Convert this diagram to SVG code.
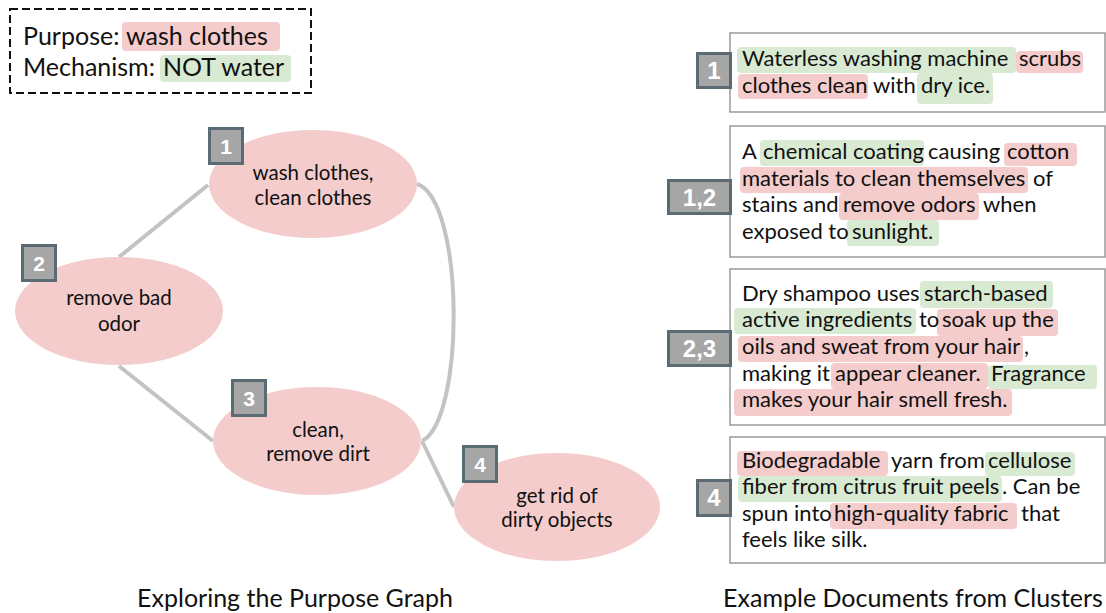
<svg xmlns="http://www.w3.org/2000/svg" width="1106" height="613" viewBox="0 0 1106 613">
<style>
.t{font-family:Lato,"Noto Sans",sans-serif;fill:#111}
.q{font-size:25px}
.n{font-size:20.5px;text-anchor:middle}
.d{font-size:22px}
.cap{font-size:25px;text-anchor:middle}
.pk{fill:#f4cccc}
.gr{fill:#d9ead3}
.el{fill:#f4cccc}
.bd{fill:#a6a6a6;stroke:#5b6b74;stroke-width:3}
.bt{font-family:"Liberation Sans",Arial,sans-serif;font-weight:bold;font-size:21px;fill:#fff;text-anchor:middle}
.bt2{font-size:24px}
.box{fill:#fff;stroke:#9a9a9a;stroke-width:1.5}
.cn{fill:none;stroke:#c3c3c3;stroke-width:4}
</style>
<rect width="1106" height="613" fill="#fff"/>

<g id="query">
<rect x="10" y="9" width="301" height="84" fill="none" stroke="#111" stroke-width="2" stroke-dasharray="8,4"/>
<rect class="pk" x="122" y="22" width="158" height="29" rx="4"/>
<rect class="gr" x="160" y="55" width="131" height="27" rx="4"/>
<text class="t q" x="23" y="45">Purpose:</text>
<text class="t q" x="126" y="45">wash clothes</text>
<text class="t q" x="23" y="76">Mechanism:</text>
<text class="t q" x="163" y="76">NOT water</text>
</g>

<g id="connectors">
<line class="cn" x1="208" y1="185" x2="119" y2="257"/>
<line class="cn" x1="119" y1="366" x2="213" y2="441"/>
<path class="cn" d="M417,184 C465,200 465,420 422,441"/>
<line class="cn" x1="422" y1="441" x2="454" y2="507"/>
</g>

<g id="node1">
<ellipse class="el" cx="313" cy="184" rx="104" ry="54"/>
<text class="t n" x="313" y="180">wash clothes,</text>
<text class="t n" x="313" y="205">clean clothes</text>
<rect class="bd" x="209.5" y="128.5" width="33" height="35"/>
<text class="bt" x="226" y="154">1</text>
</g>

<g id="node2">
<ellipse class="el" cx="119" cy="311" rx="104" ry="54"/>
<text class="t n" x="119" y="305">remove bad</text>
<text class="t n" x="119" y="331">odor</text>
<rect class="bd" x="22.5" y="245.5" width="33" height="35"/>
<text class="bt" x="39" y="271">2</text>
</g>

<g id="node3">
<ellipse class="el" cx="317" cy="441" rx="104" ry="54"/>
<text class="t n" x="318" y="437">clean,</text>
<text class="t n" x="318" y="461">remove dirt</text>
<rect class="bd" x="232.5" y="380.5" width="33" height="35"/>
<text class="bt" x="249" y="406" font-weight="normal">3</text>
</g>

<g id="node4">
<ellipse class="el" cx="557" cy="507" rx="103" ry="54"/>
<text class="t n" x="557" y="503">get rid of</text>
<text class="t n" x="557" y="527">dirty objects</text>
<rect class="bd" x="463.5" y="446.5" width="33" height="35"/>
<text class="bt" x="480" y="472">4</text>
</g>

<g id="doc1">
<rect class="box" x="730" y="33" width="375" height="79"/>
<rect class="gr" x="737" y="47" width="279" height="26" rx="4"/>
<rect class="pk" x="1016" y="51" width="67" height="22" rx="4"/>
<rect class="pk" x="738" y="74" width="130" height="25" rx="4"/>
<rect class="gr" x="917" y="73" width="76" height="31" rx="4"/>
<text class="t d" y="66"><tspan x="742">Waterless washing machine</tspan><tspan x="1019">scrubs</tspan></text>
<text class="t d" y="93"><tspan x="742">clothes clean</tspan><tspan x="873">with</tspan><tspan x="921">dry ice.</tspan></text>
<rect class="bd" x="697.5" y="53.5" width="33" height="34"/>
<text class="bt bt2" x="714" y="79">1</text>
</g>

<g id="doc2">
<rect class="box" x="730" y="126" width="375" height="131"/>
<rect class="gr" x="760" y="140" width="164" height="26" rx="4"/>
<rect class="pk" x="1004" y="143" width="73" height="23" rx="4"/>
<rect class="pk" x="740" y="167" width="288" height="26" rx="4"/>
<rect class="pk" x="839" y="193" width="140" height="27" rx="4"/>
<rect class="gr" x="847" y="220" width="92" height="26" rx="4"/>
<text class="t d" y="159"><tspan x="742">A</tspan><tspan x="763">chemical coating</tspan><tspan x="928">causing</tspan><tspan x="1007">cotton</tspan></text>
<text class="t d" y="186"><tspan x="742">materials to clean themselves</tspan><tspan x="1033">of</tspan></text>
<text class="t d" y="212"><tspan x="742">stains and</tspan><tspan x="843">remove odors</tspan><tspan x="983">when</tspan></text>
<text class="t d" y="239"><tspan x="742">exposed to</tspan><tspan x="852">sunlight.</tspan></text>
<rect class="bd" x="668.5" y="180.5" width="62" height="33"/>
<text class="bt bt2" x="699.5" y="206">1,2</text>
</g>

<g id="doc3">
<rect class="box" x="730" y="269" width="375" height="156"/>
<rect class="gr" x="920" y="281" width="133" height="27" rx="4"/>
<rect class="gr" x="734" y="308" width="182" height="26" rx="4"/>
<rect class="pk" x="937" y="309" width="121" height="27" rx="4"/>
<rect class="pk" x="738" y="336" width="285" height="26" rx="4"/>
<rect class="pk" x="831" y="363" width="157" height="26" rx="4"/>
<rect class="gr" x="988" y="365" width="109" height="24" rx="4"/>
<rect class="pk" x="734" y="389" width="278" height="27" rx="4"/>
<text class="t d" y="301"><tspan x="742">Dry shampoo uses</tspan><tspan x="924">starch-based</tspan></text>
<text class="t d" y="327"><tspan x="742">active ingredients</tspan><tspan x="919">to</tspan><tspan x="942">soak up the</tspan></text>
<text class="t d" y="354"><tspan x="742">oils and sweat from your hair</tspan><tspan x="1024">,</tspan></text>
<text class="t d" y="381"><tspan x="742">making it</tspan><tspan x="835">appear cleaner.</tspan><tspan x="991">Fragrance</tspan></text>
<text class="t d" y="407"><tspan x="742">makes your hair smell fresh.</tspan></text>
<rect class="bd" x="668.5" y="331.5" width="62" height="34"/>
<text class="bt bt2" x="699.5" y="357">2,3</text>
</g>

<g id="doc4">
<rect class="box" x="730" y="437" width="375" height="126"/>
<rect class="pk" x="737" y="451" width="151" height="25" rx="4"/>
<rect class="gr" x="985" y="452" width="90" height="24" rx="4"/>
<rect class="gr" x="738" y="476" width="264" height="26" rx="4"/>
<rect class="pk" x="830" y="503" width="187" height="26" rx="4"/>
<text class="t d" y="468"><tspan x="742">Biodegradable</tspan><tspan x="891">yarn from</tspan><tspan x="988">cellulose</tspan></text>
<text class="t d" y="494"><tspan x="742">fiber from citrus fruit peels</tspan><tspan x="1002">. Can be</tspan></text>
<text class="t d" y="521"><tspan x="742">spun into</tspan><tspan x="834">high-quality fabric</tspan><tspan x="1021">that</tspan></text>
<text class="t d" y="547"><tspan x="742">feels like silk.</tspan></text>
<rect class="bd" x="697.5" y="480.5" width="33" height="35"/>
<text class="bt bt2" x="714" y="506">4</text>
</g>

<g id="captions">
<text class="t cap" x="295" y="607">Exploring the Purpose Graph</text>
<text class="t cap" x="913" y="607">Example Documents from Clusters</text>
</g>
</svg>
